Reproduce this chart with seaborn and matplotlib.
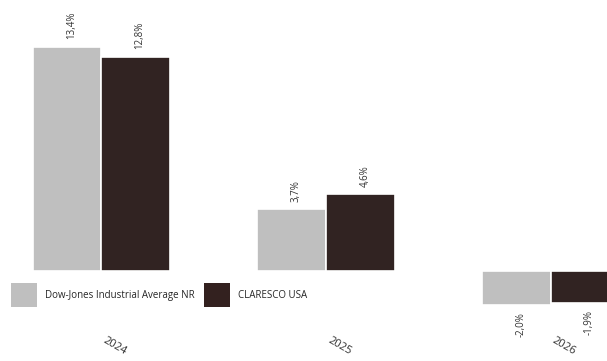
import matplotlib
matplotlib.use("Agg")
import matplotlib.pyplot as plt
import matplotlib.transforms as mtransforms
import pandas as pd
import seaborn as sns
from matplotlib.patches import Patch

years = ["2024", "2025", "2026"]
series = ["Dow-Jones Industrial Average NR", "CLARESCO USA"]
dow_values = [13.4, 3.7, -2.0]
claresco_values = [12.8, 4.6, -1.9]
colors = ["#BFBFBF", "#33211F"]

df = pd.DataFrame({
    "year": years * 2,
    "series": [series[0]] * 3 + [series[1]] * 3,
    "value": dow_values + claresco_values,
})

sns.set_style("white")
plt.rcParams["font.family"] = ["Open Sans", "DejaVu Sans"]

fig = plt.figure(figsize=(6.07, 3.61), dpi=100)
ax = fig.add_axes([0, 0.14, 1, 0.86])

sns.barplot(data=df, x="year", y="value", hue="series", palette=colors,
            width=0.61, gap=0.0, edgecolor="white", linewidth=1.2,
            legend=False, ax=ax)

ax.set_xlim(-0.45, 2.25)
ax.set_ylim(-2.35, 16.2)

# value labels
for cont in ax.containers:
    for bar in cont:
        v = bar.get_height()
        x = bar.get_x() + bar.get_width() / 2 + 0.02
        txt = f"{v:.1f}%".replace(".", ",")
        if v >= 0:
            ax.text(x, v + 0.45, txt, rotation=90, ha="center", va="bottom",
                    fontsize=7, color="#333333")
        else:
            ax.text(x, v - 0.45, txt, rotation=90, ha="center", va="top",
                    fontsize=7, color="#333333")

for s in ax.spines.values():
    s.set_visible(False)
ax.set_yticks([])
ax.set_xlabel("")
ax.set_ylabel("")
ax.tick_params(axis="x", length=0, pad=18)
shift = mtransforms.ScaledTranslation(5 / 100, 0, fig.dpi_scale_trans)
for lbl in ax.get_xticklabels():
    lbl.set_rotation(-30)
    lbl.set_ha("left")
    lbl.set_rotation_mode("anchor")
    lbl.set_fontsize(8)
    lbl.set_color("#333333")
    lbl.set_transform(lbl.get_transform() + shift)

handles = [Patch(facecolor=c, edgecolor="none") for c in colors]
fig.legend(handles, series, loc="upper left", bbox_to_anchor=(0.004, 0.24),
           ncol=2, frameon=False, fontsize=7, handlelength=2.7,
           handleheight=3.4, handletextpad=0.8, columnspacing=0.9)

fig.savefig("out.png", dpi=100)
